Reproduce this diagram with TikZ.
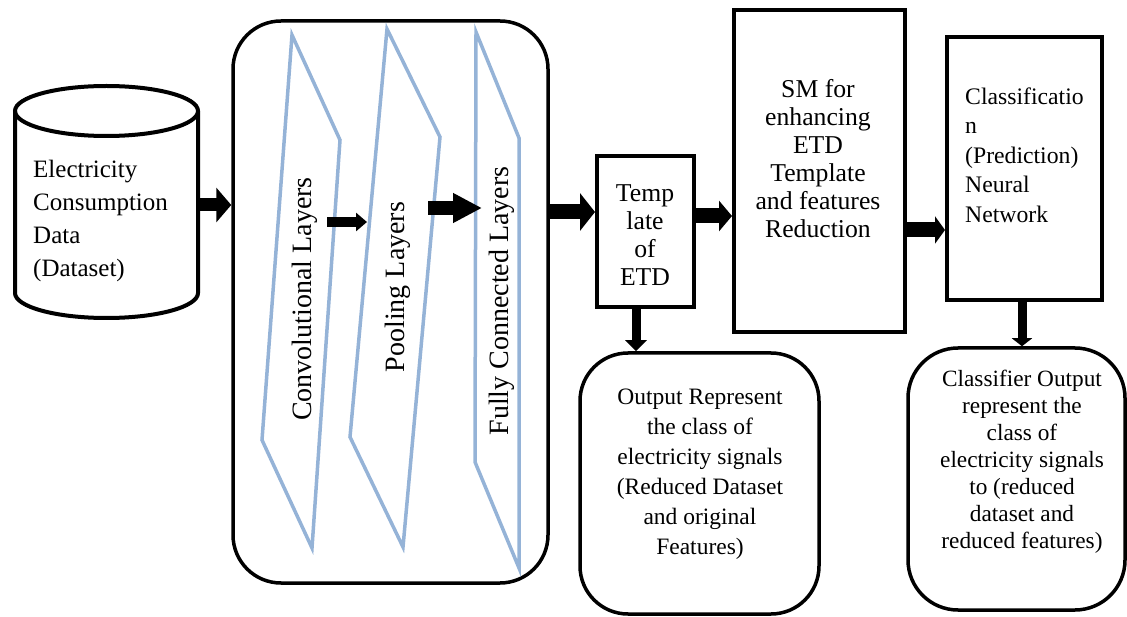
\documentclass[tikz,border=0pt]{standalone}
\usepackage{fontspec}
\setmainfont{Liberation Serif}
\usetikzlibrary{arrows.meta}
\definecolor{layerblue}{HTML}{95B3D7}
\tikzset{
  rect/.style={draw, line width=4pt, inner sep=0pt},
  rbox/.style={draw, line width=3.5pt, inner sep=0pt, rounded corners=48pt},
  layer/.style={draw=layerblue, line width=3.5pt, line join=miter},
  label/.style={inner sep=0pt, align=center},
  barrow/.style n args={3}{line width=#1, -{Triangle[length=#3, width=#2]}},
}
\begin{document}
\begin{tikzpicture}[x=1pt, y=-1pt]
\useasboundingbox (0,0) rectangle (1127,617);

% data store (cylinder)
\draw[line width=4pt] (15,111) -- (15,293)
  arc[start angle=180, end angle=0, x radius=91.5, y radius=25] -- (198,111);
\draw[line width=4pt] (106.5,111) ellipse[x radius=91.5, y radius=25];
\node[label, align=left, anchor=west, font=\fontsize{25}{33}\selectfont] (data) at (33,221)
  {Electricity\\Consumption\\Data\\(Dataset)};
\coordinate (dataout) at (197,205);

% CNN block
\node[rbox, minimum width=315pt, minimum height=562pt] (cnn) at (390.5,302) {};
\draw[layer] (292,35) -- (340,140) -- (312,548) -- (262,440) -- cycle;
\draw[layer] (387,29) -- (440,137) -- (403,547) -- (350,437) -- cycle;
\draw[layer] (476,32) -- (519,138) -- (519,568) -- (475,462) -- cycle;
\node[label, rotate=90, font=\fontsize{28}{30}\selectfont] (conv) at (305,299) {Convolutional Layers};
\node[label, rotate=90, font=\fontsize{28}{30}\selectfont] (pool) at (398,287) {Pooling Layers};
\node[label, rotate=90, font=\fontsize{28}{30}\selectfont] (fc) at (502,301) {Fully Connected Layers};
\coordinate (convout) at (327,222);
\coordinate (poolin) at (367,222);
\coordinate (poolout) at (428,208);
\coordinate (fcin) at (482,208);

% template, SM and classifier boxes
\node[rect, minimum width=97pt, minimum height=151pt] (tmpl) at (645.5,231.5) {};
\node[label, font=\fontsize{25.7}{28}\selectfont] (tmpltxt) at (645,235) {Temp\\late\\of\\ETD};
\node[rect, minimum width=171pt, minimum height=322pt] (sm) at (819.5,171) {};
\node[label, font=\fontsize{25.7}{28}\selectfont] (smtxt) at (818,159)
  {SM for\\enhancing\\ETD\\Template\\and features\\Reduction};
\node[rect, minimum width=155pt, minimum height=263pt] (cls) at (1024.5,168.5) {};
\node[label, align=left, anchor=west, font=\fontsize{23.7}{29.5}\selectfont] (clstxt) at (965,155)
  {Classificatio\\n\\(Prediction)\\Neural\\Network};

% output boxes
\node[rbox, minimum width=239pt, minimum height=261pt] (out1) at (699.5,483.5) {};
\node[label, font=\fontsize{23.5}{30}\selectfont] (out1txt) at (700,474)
  {Output Represent\\the class of\\electricity signals\\(Reduced Dataset\\and original\\Features)};
\node[rbox, rounded corners=50pt, minimum width=217pt, minimum height=262pt] (out2) at (1016.5,479) {};
\node[label, font=\fontsize{23.3}{27}\selectfont] (out2txt) at (1022,462)
  {Classifier Output\\represent the\\class of\\electricity signals\\to (reduced\\dataset and\\reduced features)};

% block arrows
\coordinate (r1) at (0,212);
\coordinate (r2) at (0,216);
\coordinate (r3) at (0,230);
\coordinate (c1) at (636,0);
\coordinate (c2) at (1022,0);
\draw[barrow={13pt}{34pt}{15pt}] (dataout) -- (cnn.west |- dataout);
\draw[barrow={10pt}{18pt}{11pt}] (convout) -- (poolin);
\draw[barrow={14pt}{28pt}{29pt}] (poolout) -- (fcin);
\draw[barrow={15pt}{37pt}{15pt}] (cnn.east |- r1) -- (tmpl.west |- r1);
\draw[barrow={15pt}{30pt}{13pt}] (tmpl.east |- r2) -- (sm.west |- r2);
\draw[barrow={15pt}{27pt}{10pt}] (sm.east |- r3) -- (cls.west |- r3);
\draw[barrow={9pt}{21pt}{11pt}] (tmpl.south -| c1) -- (out1.north -| c1);
\draw[barrow={9pt}{20pt}{8pt}] (cls.south -| c2) -- (out2.north -| c2);
\end{tikzpicture}
\end{document}
